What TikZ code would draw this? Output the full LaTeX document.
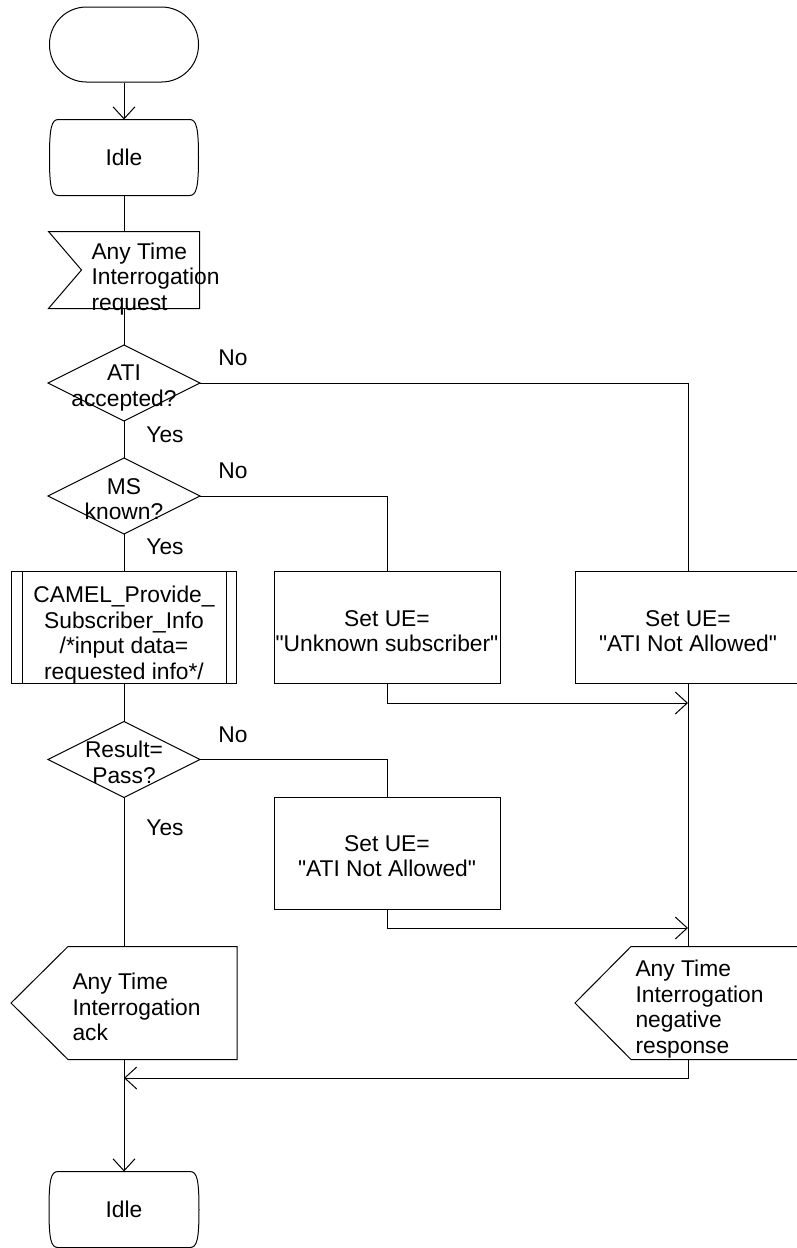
\documentclass[tikz,border=0pt]{standalone}
\usepackage{fontspec}
\setmainfont{Liberation Sans}[Ligatures=TeXOff]
\usetikzlibrary{arrows.meta,calc}
\newcommand\sdlstate[1]{%
  \draw ($(#1.north west)+(9,0)$) -- ($(#1.north east)+(-9,0)$)
    .. controls ($(#1.north east)+(-2,0)$) and ($(#1.east)+(0,-30)$) .. (#1.east)
    .. controls ($(#1.east)+(0,30)$) and ($(#1.south east)+(-2,0)$) .. ($(#1.south east)+(-9,0)$)
    -- ($(#1.south west)+(9,0)$)
    .. controls ($(#1.south west)+(2,0)$) and ($(#1.west)+(0,30)$) .. (#1.west)
    .. controls ($(#1.west)+(0,-30)$) and ($(#1.north west)+(2,0)$) .. cycle;}
\begin{document}
\begin{tikzpicture}[x=1pt,y=-1pt, line width=1pt,
  every node/.style={font=\fontsize{22.8}{25.5}\selectfont, inner sep=0pt},
  arr/.style={-{Straight Barb[length=12pt,width=22pt,line width=1pt]}},
  procbox/.style={draw, minimum width=226pt, minimum height=112pt},
  decision/.style={minimum width=151pt, minimum height=75pt},
  ctext/.style={align=center},
  sigtext/.style={anchor=west, align=left}]
\useasboundingbox (0,0) rectangle (797,1248);

% shape nodes
\node[draw, rounded corners=37pt, minimum width=149pt, minimum height=75pt] (start) at (124,44.5) {};
\node[minimum width=148pt, minimum height=75pt] (idle1) at (124,157.5) {Idle};
\node[minimum width=150pt, minimum height=76pt] (inp) at (124,270) {};
\node[decision] (ati) at (124,383) {};
\node[decision] (ms) at (124,496) {};
\node[procbox, minimum width=225pt] (camel) at (124,627) {};
\node[procbox] (unk) at (387,627) {};
\node[procbox] (na1) at (688,627) {};
\node[decision] (res) at (124,759.5) {};
\node[procbox] (na2) at (387,853) {};
\node[minimum width=225pt, minimum height=112pt] (ack) at (124,1003) {};
\node[minimum width=225pt, minimum height=112pt] (neg) at (688,1003) {};
\node[minimum width=149pt, minimum height=75pt] (idle2) at (124,1209.5) {Idle};

% texts
\node[sigtext] (inptxt) at (91,279) {Any Time\\Interrogation\\request};
\node[ctext] (atitxt) at ($(ati)+(0,5)$) {ATI\\accepted?};
\node[ctext] (mstxt) at ($(ms)+(0,3)$) {MS\\known?};
\node[ctext] (camtxt) at ($(camel)+(0,8)$) {CAMEL\_Provide\_\\Subscriber\_Info\\/*input data=\\requested info*/};
\node[ctext] (unktxt) at ($(unk)+(0,4)$) {Set UE=\\"Unknown subscriber"};
\node[ctext] (na1txt) at ($(na1)+(0,4)$) {Set UE=\\"ATI Not Allowed"};
\node[ctext] (restxt) at ($(res)+(0,3)$) {Result=\\Pass?};
\node[ctext] (na2txt) at ($(na2)+(0,3)$) {Set UE=\\"ATI Not Allowed"};
\node[sigtext] (acktxt) at (72,1007) {Any Time\\Interrogation\\ack};
\node[sigtext] (negtxt) at (635,1009) {Any Time\\Interrogation\\negative\\response};

% shape outlines
\sdlstate{idle1}
\sdlstate{idle2}
\draw (inp.north west) -- (inp.north east) -- (inp.south east) -- (inp.south west) -- ($(inp.west)+(33,0)$) -- cycle;
\foreach \n in {ati,ms,res} \draw (\n.north) -- (\n.east) -- (\n.south) -- (\n.west) -- cycle;
\draw ($(camel.north west)+(11,0)$) -- ($(camel.south west)+(11,0)$);
\draw ($(camel.north east)+(-11,0)$) -- ($(camel.south east)+(-11,0)$);
\draw (ack.north east) -- ($(ack.north west)+(57,0)$) -- (ack.west) -- ($(ack.south west)+(57,0)$) -- (ack.south east) -- cycle;
\draw (neg.north east) -- ($(neg.north west)+(56,0)$) -- (neg.west) -- ($(neg.south west)+(56,0)$) -- (neg.south east) -- cycle;

% labels
\node (no1) at (233,358) {No};
\node (no2) at (233,471) {No};
\node (no3) at (233,735) {No};
\node (yes1) at (165,435) {Yes};
\node (yes2) at (165,547) {Yes};
\node (yes3) at (165,828) {Yes};

% connectors
\coordinate (m1) at (688,703);
\coordinate (m2) at (688,928);
\coordinate (m3) at (124,1078);
\draw[arr] (start) -- (idle1);
\draw (idle1) -- (inp);
\draw (inp) -- (ati);
\draw (ati) -- (ms);
\draw (ati.east) -| (na1.north);
\draw (ms.east) -| (unk.north);
\draw (ms) -- (camel);
\draw (camel) -- (res);
\draw (res.east) -| (na2.north);
\draw (res) -- (ack);
\draw (na1) -- (neg);
\draw[arr] (unk.south) |- (m1);
\draw[arr] (na2.south) |- (m2);
\draw[arr] (neg.south) |- (m3);
\draw[arr] (ack) -- (idle2);
\end{tikzpicture}
\end{document}
